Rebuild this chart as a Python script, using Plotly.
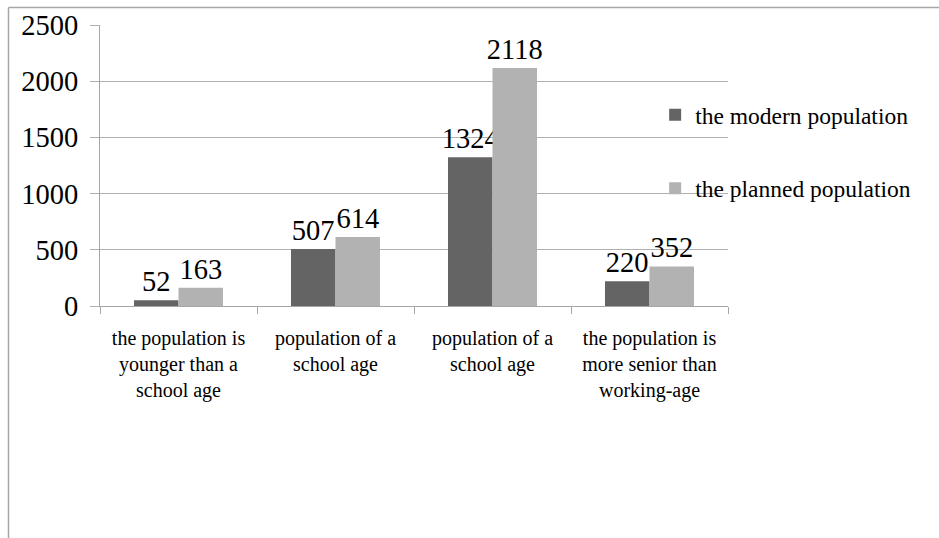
import plotly.graph_objects as go

categories = [
    "the population is<br>younger than a<br>school age",
    "population of a<br>school age",
    "population of a<br>school age",
    "the population is<br>more senior than<br>working-age",
]
modern = [52, 507, 1324, 220]
planned = [163, 614, 2118, 352]
series_names = ["the modern population", "the planned population"]
colors = ["#646464", "#b2b2b2"]
y_ticks = [0, 500, 1000, 1500, 2000, 2500]

FONT = "Liberation Serif"
x_pos = list(range(len(categories)))

fig = go.Figure()
for i, (name, vals) in enumerate(zip(series_names, [modern, planned])):
    fig.add_trace(go.Bar(
        x=x_pos, y=vals, name=name,
        marker=dict(color=colors[i], line=dict(width=0)),
        text=[str(v) for v in vals], textposition="outside",
        textfont=dict(family=FONT, size=28.5, color="black"),
        constraintext="none",
        cliponaxis=False, legendgroup=f"g{i}",
    ))

fig.update_layout(
    width=939, height=538,
    margin=dict(l=100, r=211, t=25, b=232, autoexpand=False),
    paper_bgcolor="white", plot_bgcolor="white",
    barmode="group", bargap=0.433, bargroupgap=0,
    font=dict(family=FONT, color="black"),
    showlegend=True,
    legend=dict(
        x=0.884, xanchor="left", y=0.758, yanchor="top",
        font=dict(family=FONT, size=23.5, color="black"),
        bgcolor="rgba(0,0,0,0)", tracegroupgap=40,
        traceorder="grouped", itemwidth=30,
    ),
)
fig.update_xaxes(
    range=[-0.5, len(categories) - 0.5],
    tickvals=x_pos, ticktext=categories, ticks="",
    tickfont=dict(family=FONT, size=20, color="black"),
    showline=True, linecolor="#a6a6a6", linewidth=1,
    showgrid=False, zeroline=False, automargin=False,
    minor=dict(tickvals=[p - 0.5 for p in x_pos] + [len(categories) - 0.5],
               ticks="outside", ticklen=7, tickcolor="#a6a6a6", showgrid=False),
    ticklabelstandoff=14,
)
fig.update_yaxes(
    range=[0, 2500], tickvals=y_ticks,
    tickfont=dict(family=FONT, size=28.5, color="black"),
    showline=True, linecolor="#a6a6a6", linewidth=1,
    showgrid=True, gridcolor="#b0b0b0", gridwidth=1,
    ticks="outside", ticklen=9, tickcolor="#b0b0b0",
    zeroline=False, ticklabelstandoff=6, automargin=False,
)

# outer frame (top and left edges visible in the reference)
x_left = (8.5 - 100) / 628
y_top = (306 - 7.5) / 281
y_bot = (306 - 540) / 281
fig.add_shape(type="line", xref="paper", yref="paper", x0=x_left, x1=(940 - 100) / 628,
              y0=y_top, y1=y_top, line=dict(color="#a6a6a6", width=1.5))
fig.add_shape(type="line", xref="paper", yref="paper", x0=x_left, x1=x_left,
              y0=y_top, y1=y_bot, line=dict(color="#a6a6a6", width=1.5))

fig.write_html("out.html", config={"displayModeBar": False},
               post_script="document.body.style.margin='0';")
